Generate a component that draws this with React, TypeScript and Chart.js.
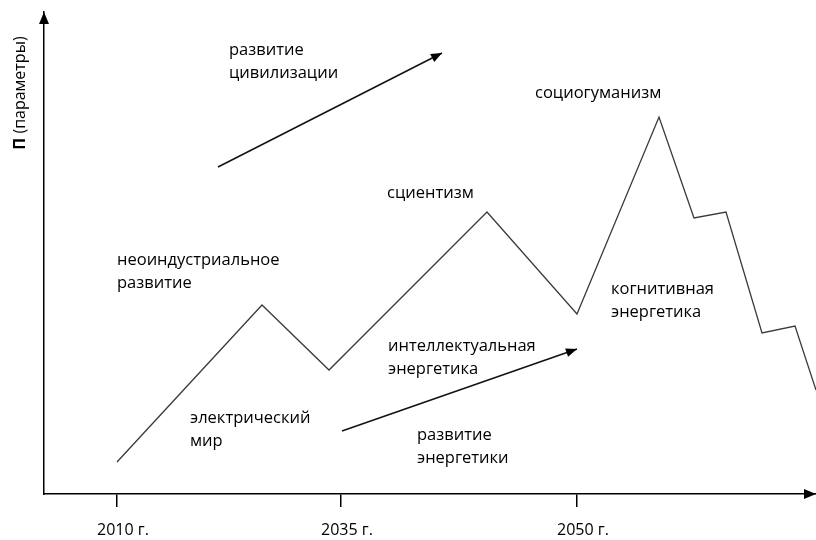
import React, { useEffect, useRef } from "react";
import { Chart, registerables } from "chart.js";

Chart.register(...registerables);

// Schematic trend (x, y in diagram units; origin at axis crossing)
const trendX = [73, 218, 285, 443, 533, 615, 650, 682, 718, 751, 772];
const trendY = [32, 189, 124, 282, 180, 377, 276, 282, 161, 168, 104];

// Arrow "развитие цивилизации"
const civArrowX = [174, 398];
const civArrowY = [327, 441];
// Arrow "развитие энергетики"
const energyArrowX = [298, 533];
const energyArrowY = [63, 145];

const tickValues = [73, 297, 533];
const tickLabels = ["2010 г.", "2035 г.", "2050 г."];

const noteLines: string[][] = [
  ["развитие", "цивилизации"],
  ["социогуманизм"],
  ["сциентизм"],
  ["неоиндустриальное", "развитие"],
  ["когнитивная", "энергетика"],
  ["интеллектуальная", "энергетика"],
  ["электрический", "мир"],
  ["развитие", "энергетики"],
];
const noteX = [185, 491, 343, 73, 567, 344, 146, 373];
const noteY = [444, 401, 301, 234, 205, 148, 76, 59];

const axisTitleBold = "П";
const axisTitleRest = " (параметры)";

const FONT = '"Open Sans", "DejaVu Sans", sans-serif';

function arrowHead(ctx: CanvasRenderingContext2D, x1: number, y1: number, x2: number, y2: number, len = 11, half = 4.5) {
  const a = Math.atan2(y2 - y1, x2 - x1);
  ctx.save();
  ctx.translate(x2, y2);
  ctx.rotate(a);
  ctx.beginPath();
  ctx.moveTo(0, 0);
  ctx.lineTo(-len, -half);
  ctx.lineTo(-len, half);
  ctx.closePath();
  ctx.fillStyle = "#000";
  ctx.fill();
  ctx.restore();
}

const decorPlugin = {
  id: "decor",
  afterDraw(chart: any) {
    const ctx: CanvasRenderingContext2D = chart.ctx;
    const xs = chart.scales.x;
    const ys = chart.scales.y;
    const area = chart.chartArea;
    ctx.save();
    // arrow heads on arrow datasets
    [1, 2].forEach((di) => {
      const pts = chart.getDatasetMeta(di).data;
      const p1 = pts[pts.length - 2];
      const p2 = pts[pts.length - 1];
      arrowHead(ctx, p1.x, p1.y, p2.x, p2.y);
    });
    // axis arrow heads
    arrowHead(ctx, area.left, area.bottom, area.left, area.top, 12, 5);
    arrowHead(ctx, area.left, area.bottom, area.right, area.bottom, 12, 5);

    // notes
    ctx.fillStyle = "#000";
    ctx.font = `16.5px ${FONT}`;
    ctx.textBaseline = "middle";
    ctx.textAlign = "left";
    noteLines.forEach((lines, i) => {
      const px = xs.getPixelForValue(noteX[i]);
      const py = ys.getPixelForValue(noteY[i]);
      lines.forEach((t, j) => ctx.fillText(t, px, py + j * 23));
    });

    // y axis title
    ctx.translate(20, 93);
    ctx.rotate(-Math.PI / 2);
    ctx.font = `bold 16px ${FONT}`;
    const wb = ctx.measureText(axisTitleBold).width;
    ctx.font = `16px ${FONT}`;
    const wr = ctx.measureText(axisTitleRest).width;
    const start = -(wb + wr) / 2;
    ctx.font = `bold 16px ${FONT}`;
    ctx.fillText(axisTitleBold, start, 0);
    ctx.font = `16px ${FONT}`;
    ctx.fillText(axisTitleRest, start + wb, 0);
    ctx.restore();
  },
};

export default function App() {
  const ref = useRef<HTMLCanvasElement | null>(null);
  useEffect(() => {
    if (!ref.current) return;
    const toXY = (xa: number[], ya: number[]) => xa.map((x, i) => ({ x, y: ya[i] }));
    const chart = new Chart(ref.current, {
      type: "line",
      data: {
        datasets: [
          {
            data: toXY(trendX, trendY),
            borderColor: "#3a3a3a",
            borderWidth: 1.3,
            pointRadius: 0,
            tension: 0,
            fill: false,
          },
          {
            data: toXY(civArrowX, civArrowY),
            borderColor: "#111",
            borderWidth: 1.5,
            pointRadius: 0,
            fill: false,
          },
          {
            data: toXY(energyArrowX, energyArrowY),
            borderColor: "#111",
            borderWidth: 1.5,
            pointRadius: 0,
            fill: false,
          },
        ],
      },
      options: {
        animation: false,
        responsive: false,
        devicePixelRatio: 1,
        layout: { padding: { top: 12, left: 0, right: 0, bottom: 0 } },
        plugins: { legend: { display: false }, tooltip: { enabled: false } },
        scales: {
          x: {
            type: "linear",
            min: 0,
            max: 772,
            afterBuildTicks: (s: any) => {
              s.ticks = tickValues.map((v) => ({ value: v }));
            },
            afterFit: (s: any) => {
              s.height = 46;
            },
            ticks: {
              autoSkip: false,
              maxRotation: 0,
              color: "#000",
              font: { family: FONT, size: 16 },
              padding: 14,
              labelOffset: 6,
              callback: (v: any) => {
                const i = tickValues.indexOf(Number(v));
                return i >= 0 ? tickLabels[i] : "";
              },
            },
            grid: {
              display: true,
              drawOnChartArea: false,
              drawTicks: true,
              tickLength: 13,
              color: "#000",
              lineWidth: 1.5,
            },
            border: { display: true, color: "#000", width: 1.5 },
          },
          y: {
            type: "linear",
            min: 0,
            max: 482,
            afterFit: (s: any) => {
              s.width = 44;
            },
            ticks: { display: false },
            grid: { display: false },
            border: { display: true, color: "#000", width: 1.5 },
          },
        },
      },
      plugins: [decorPlugin],
    });
    return () => chart.destroy();
  }, []);
  return (
    <div style={{ position: "absolute", left: 0, top: 0, width: 816, height: 540, background: "#fff" }}>
      <canvas ref={ref} width={816} height={540} style={{ display: "block" }} />
    </div>
  );
}
